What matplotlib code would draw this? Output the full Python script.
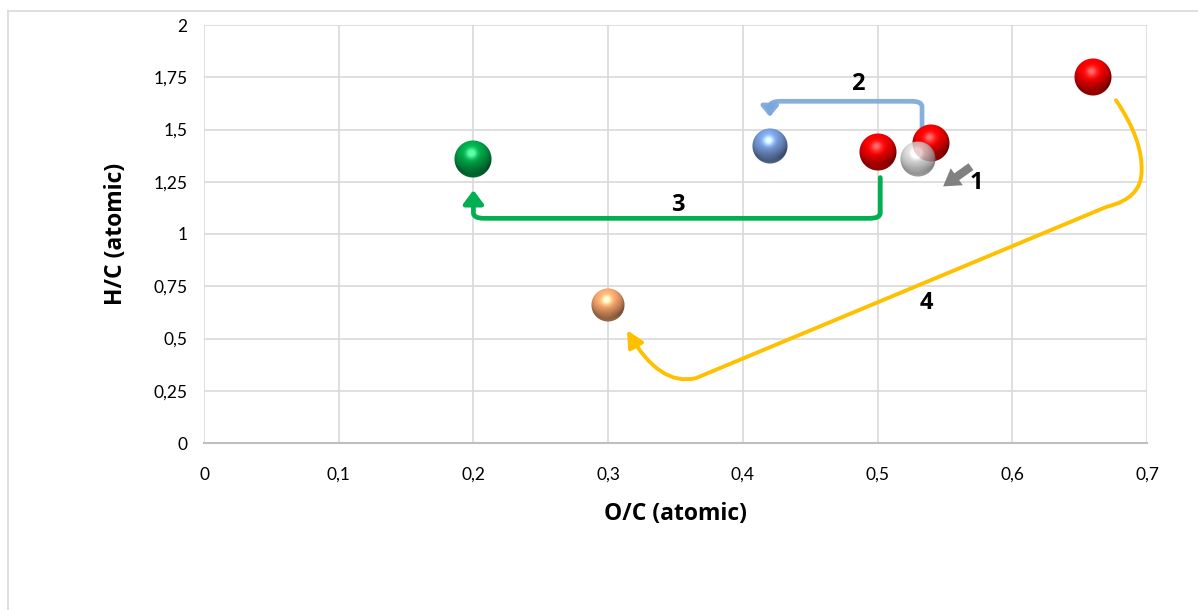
import numpy as np
import matplotlib
matplotlib.use("Agg")
import matplotlib.pyplot as plt
from matplotlib.path import Path
from matplotlib.patches import FancyArrowPatch
from matplotlib.lines import Line2D
from matplotlib.offsetbox import OffsetImage, AnnotationBbox
from matplotlib.ticker import FixedLocator, FixedFormatter

plt.rcParams['font.family'] = ['Lato', 'DejaVu Sans']
BOLD = ['Open Sans', 'DejaVu Sans']

# data points (O/C, H/C)
oc = [0.20, 0.30, 0.42, 0.50, 0.54, 0.53, 0.66]
hc = [1.36, 0.66, 1.42, 1.39, 1.435, 1.36, 1.75]
sphere_rgb = [(0, 160, 70), (240, 160, 105), (115, 150, 210), (235, 0, 0),
              (235, 0, 0), (200, 200, 200), (235, 0, 0)]
sphere_alpha = [1, 1, 1, 1, 1, 0.8, 1]
sphere_px = [38, 34, 36, 38, 38, 36, 38]

xticks = [0, 0.1, 0.2, 0.3, 0.4, 0.5, 0.6, 0.7]
xtick_labels = ['0', '0,1', '0,2', '0,3', '0,4', '0,5', '0,6', '0,7']
yticks = [0, 0.25, 0.5, 0.75, 1, 1.25, 1.5, 1.75, 2]
ytick_labels = ['0', '0,25', '0,5', '0,75', '1', '1,25', '1,5', '1,75', '2']

step_labels = ['1', '2', '3', '4']
step_label_pos = [(0.573, 1.245), (0.485, 1.72), (0.352, 1.14), (0.536, 0.67)]


def sphere_image(rgb, alpha=1.0, n=72):
    yy, xx = np.mgrid[-1:1:n * 1j, -1:1:n * 1j]
    yy = -yy
    rr = np.sqrt(xx ** 2 + yy ** 2)
    z = np.sqrt(np.clip(1 - rr ** 2, 0, 1))
    light = np.array([-0.15, 0.6, 0.8])
    light /= np.linalg.norm(light)
    diff = np.clip(xx * light[0] + yy * light[1] + z * light[2], 0, 1)
    half = light + np.array([0, 0, 1.0])
    half /= np.linalg.norm(half)
    spec = np.clip(xx * half[0] + yy * half[1] + z * half[2], 0, 1) ** 25
    refl = np.clip(-yy - 0.5, 0, 1) * (rr < 1)
    base = np.array(rgb) / 255.0
    img = np.zeros((n, n, 4))
    for c in range(3):
        v = base[c] * (0.5 + 0.65 * diff) + 0.45 * spec + base[c] * refl * 0.35
        img[..., c] = np.clip(v, 0, 1)
    edge = np.clip((1 - rr) * n / 2, 0, 1)
    img[..., 3] = edge * alpha
    return img


fig = plt.figure(figsize=(11.98, 6.10), dpi=100)
ax = fig.add_axes([204 / 1198, 1 - 443 / 610, 943 / 1198, 418 / 610])

ax.set_xlim(0, 0.7)
ax.set_ylim(0, 2)
ax.xaxis.set_major_locator(FixedLocator(xticks))
ax.xaxis.set_major_formatter(FixedFormatter(xtick_labels))
ax.yaxis.set_major_locator(FixedLocator(yticks))
ax.yaxis.set_major_formatter(FixedFormatter(ytick_labels))
ax.grid(True, color='#d9d9d9', linewidth=1.2, zorder=0)
ax.set_axisbelow(True)
for s in ['top', 'right', 'left']:
    ax.spines[s].set_visible(False)
ax.spines['bottom'].set_color('#bfbfbf')
ax.spines['bottom'].set_linewidth(1.5)
ax.tick_params(length=0, labelsize=12.5, colors='#000000')
ax.tick_params(axis='x', pad=17)
ax.tick_params(axis='y', pad=12)
ax.set_xlabel('O/C (atomic)', fontsize=16.5, fontweight='bold', family=BOLD, labelpad=14)
ax.set_ylabel('H/C (atomic)', fontsize=16.5, fontweight='bold', family=BOLD, labelpad=18)

# spheres
ax.scatter(oc, hc, s=0, zorder=3)
for x, y, rgb, a, px in zip(oc, hc, sphere_rgb, sphere_alpha, sphere_px):
    im = OffsetImage(sphere_image(rgb, a, n=px * 2), zoom=0.5 * 72 / 100)
    ab = AnnotationBbox(im, (x, y), frameon=False, zorder=5)
    ax.add_artist(ab)


def rounded_path(pts, rx=0.008, ry=0.025):
    verts = [pts[0]]
    codes = [Path.MOVETO]
    for i in range(1, len(pts) - 1):
        p0, p1, p2 = np.array(pts[i - 1]), np.array(pts[i]), np.array(pts[i + 1])
        d1 = p1 - p0
        d2 = p2 - p1
        a = p1 - np.sign(d1) * np.array([rx, ry]) * (np.abs(d1) > 0)
        b = p1 + np.sign(d2) * np.array([rx, ry]) * (np.abs(d2) > 0)
        verts += [tuple(a), tuple(p1), tuple(b)]
        codes += [Path.LINETO, Path.CURVE3, Path.CURVE3]
    verts.append(pts[-1])
    codes.append(Path.LINETO)
    return Path(verts, codes)


# step 3: red (0.5) -> green (0.2)
p3 = rounded_path([(oc[3] + 0.002, 1.27), (oc[3] + 0.002, 1.075), (oc[0], 1.075), (oc[0], 1.21)])
ax.add_patch(FancyArrowPatch(path=p3, arrowstyle='-|>,head_length=8,head_width=6',
                             color='#00b050', lw=3.4, zorder=4, mutation_scale=1))

# step 2: red (0.54) -> blue (0.42)
p2 = rounded_path([(0.533, 1.51), (0.533, 1.635), (oc[2], 1.635), (oc[2], 1.56)])
ax.add_patch(FancyArrowPatch(path=p2, arrowstyle='-|>,head_length=6,head_width=5',
                             color='#7aa7db', lw=3.4, zorder=4, mutation_scale=1, alpha=0.9))

# step 1: short grey arrow
ax.add_patch(FancyArrowPatch((0.571, 1.33), (0.547, 1.22),
                             arrowstyle='simple,head_length=12,head_width=15,tail_width=6',
                             color='#808080', lw=0, zorder=4, mutation_scale=1))

# step 4: red (0.66) -> orange (0.3)
v4 = [(0.677, 1.64), (0.697, 1.45), (0.696, 1.30), (0.696, 1.17), (0.670, 1.13),
      (0.365, 0.31), (0.338, 0.27), (0.314, 0.54)]
c4 = [Path.MOVETO, Path.CURVE3, Path.CURVE3, Path.CURVE3, Path.CURVE3,
      Path.LINETO, Path.CURVE3, Path.CURVE3]
ax.add_patch(FancyArrowPatch(path=Path(v4, c4), arrowstyle='-|>,head_length=10,head_width=5',
                             color='#ffc000', lw=2.8, zorder=4, mutation_scale=1))

for lab, (x, y) in zip(step_labels, step_label_pos):
    ax.text(x, y, lab, fontsize=17, fontweight='bold', family=BOLD,
            ha='center', va='center', zorder=6)

# outer chart frame
fig.add_artist(Line2D([8 / 1198, 1], [1 - 11 / 610, 1 - 11 / 610], transform=fig.transFigure,
                      color='#d9d9d9', lw=1.2))
fig.add_artist(Line2D([8 / 1198, 8 / 1198], [0, 1 - 11 / 610], transform=fig.transFigure,
                      color='#d9d9d9', lw=1.2))

fig.savefig('out.png', dpi=100)
